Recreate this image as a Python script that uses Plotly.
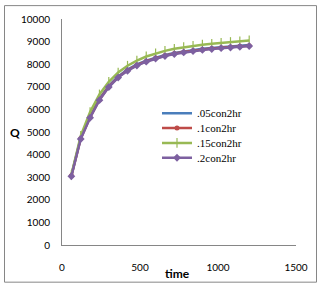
import plotly.graph_objects as go

time = [60, 120, 180, 240, 300, 360, 420, 480, 540, 600,
        660, 720, 780, 840, 900, 960, 1020, 1080, 1140, 1200]

q_05 = [3080, 4740, 5690, 6470, 7040, 7460, 7760, 7990, 8160, 8300,
        8410, 8500, 8570, 8630, 8680, 8720, 8760, 8790, 8820, 8850]
q_10 = [3060, 4710, 5650, 6430, 7010, 7430, 7730, 7960, 8130, 8270,
        8380, 8470, 8540, 8600, 8650, 8690, 8730, 8760, 8790, 8820]
q_15 = [3100, 4830, 5880, 6660, 7220, 7630, 7930, 8160, 8340, 8480,
        8590, 8680, 8750, 8810, 8860, 8900, 8940, 8980, 9010, 9050]
q_20 = [3040, 4690, 5630, 6410, 6990, 7410, 7710, 7940, 8110, 8250,
        8360, 8450, 8520, 8580, 8630, 8670, 8710, 8740, 8770, 8800]

series_names = [".05con2hr", ".1con2hr", ".15con2hr", ".2con2hr"]

W, H = 320, 288
L, R, T, B = 62, 24, 17, 43
pw, ph = W - L - R, H - T - B

def px2paper_x(px):
    return (px - L) / pw

def px2paper_y(py):
    return (H - B - py) / ph

fig = go.Figure()
fig.add_trace(go.Scatter(x=time, y=q_05, name=series_names[0], mode="lines",
                         line=dict(color="#4A7EBB", width=2.5), legend="legend"))
fig.add_trace(go.Scatter(x=time, y=q_10, name=series_names[1], mode="lines+markers",
                         line=dict(color="#BE4B48", width=2.5),
                         marker=dict(symbol="circle", size=5, color="#BE4B48"),
                         legend="legend2"))
fig.add_trace(go.Scatter(x=time, y=q_15, name=series_names[2], mode="lines+markers",
                         line=dict(color="#98B954", width=2.5),
                         marker=dict(symbol="line-ns", size=7,
                                     line=dict(color="#98B954", width=1.2)),
                         legend="legend3"))
fig.add_trace(go.Scatter(x=time, y=q_20, name=series_names[3], mode="lines+markers",
                         line=dict(color="#7D60A0", width=2.5),
                         marker=dict(symbol="diamond", size=6, color="#7D60A0"),
                         legend="legend4"))

leg_font = dict(family="Liberation Serif", size=11, color="black")
leg_centers = [112, 127, 142, 157]

def make_legend(cy):
    return dict(x=px2paper_x(157), y=px2paper_y(cy), xanchor="left", yanchor="middle",
                font=leg_font, bgcolor="rgba(0,0,0,0)", itemwidth=30)

fig.update_layout(
    width=W, height=H,
    margin=dict(l=L, r=R, t=T, b=B),
    paper_bgcolor="white", plot_bgcolor="white",
    showlegend=True,
    legend=make_legend(leg_centers[0]),
    legend2=make_legend(leg_centers[1]),
    legend3=make_legend(leg_centers[2]),
    legend4=make_legend(leg_centers[3]),
    xaxis=dict(range=[0, 1500], tickvals=[0, 500, 1000, 1500], showgrid=False,
               zeroline=False, showline=True, linecolor="#868686", linewidth=1,
               ticks="outside", ticklen=13, tickcolor="rgba(0,0,0,0)",
               tickfont=dict(family="Lato", size=10, color="black")),
    yaxis=dict(range=[0, 10000], dtick=1000, tickformat="d", showgrid=False, zeroline=False,
               showline=True, linecolor="#868686", linewidth=1,
               ticks="outside", ticklen=9, tickcolor="rgba(0,0,0,0)",
               tickfont=dict(family="Lato", size=10, color="black")),
    annotations=[
        dict(text="<b>Q</b>", xref="paper", yref="paper", x=px2paper_x(15), y=px2paper_y(131),
             xanchor="center", yanchor="middle",
             showarrow=False, font=dict(family="Lato", size=12, color="black")),
        dict(text="<b>time</b>", xref="paper", yref="paper", x=px2paper_x(177), y=px2paper_y(274),
             xanchor="center", yanchor="middle",
             showarrow=False, font=dict(family="Lato", size=12, color="black")),
    ],
    shapes=[
        dict(type="rect", xref="paper", yref="paper",
             x0=px2paper_x(4.5), x1=px2paper_x(316.5), y0=px2paper_y(282.5), y1=px2paper_y(3.5),
             line=dict(color="#868686", width=1), fillcolor="rgba(0,0,0,0)"),
    ],
)

fig.write_html("out.html", config={"displayModeBar": False},
               post_script="document.body.style.margin='0';document.body.style.overflow='hidden';")
